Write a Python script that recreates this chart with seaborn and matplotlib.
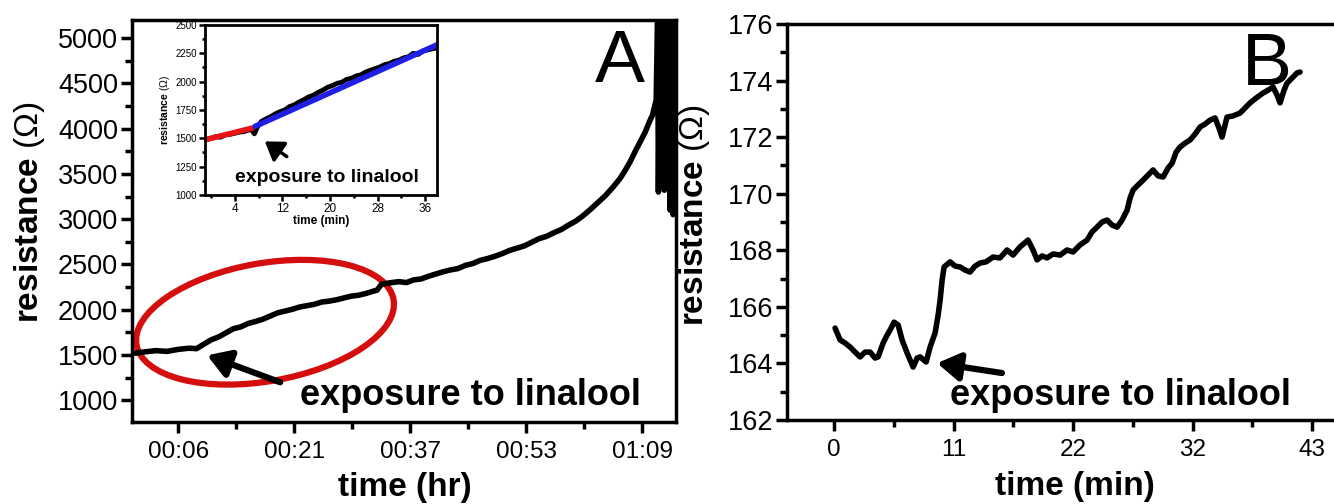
import matplotlib
matplotlib.use("Agg")
import matplotlib.pyplot as plt
from matplotlib import font_manager
from matplotlib.patches import Ellipse
from matplotlib.transforms import ScaledTranslation
import pandas as pd
import seaborn as sns

# ---- panel A: resistance vs time (minutes) ----
a_time = [0.2, 1.5, 3.0, 4.5, 6.0, 7.5, 8.5, 9.5, 10.5, 11.5, 12.5, 13.5, 14.5, 15.5,
          16.5, 17.5, 18.5, 19.5, 20.5, 21.5, 22.5, 23.5, 24.5, 25.5, 26.5, 27.5, 28.5,
          29.5, 30.5, 31.5, 32.5, 33.0, 33.6, 34.2, 35.0, 36.0, 37.0, 38.0, 39.0, 40.0,
          41.0, 42.0, 43.0, 44.0, 45.0, 46.0, 47.0, 48.0, 49.0, 50.0, 51.0, 52.0, 53.0,
          54.0, 55.0, 56.0, 57.0, 58.0, 59.0, 60.0, 61.0, 62.0, 63.0, 64.0, 65.0, 66.0,
          66.7, 67.4, 68.0, 68.7, 69.4, 70.0, 70.4, 70.9,
          71.1, 71.2, 71.4, 71.6, 71.8, 72.0, 72.2, 72.4, 72.6, 72.8, 73.0, 73.2, 73.4]
a_res = [1520, 1535, 1548, 1540, 1562, 1575, 1570, 1620, 1668, 1700, 1745, 1790, 1810, 1848,
         1870, 1895, 1930, 1965, 1985, 2005, 2030, 2045, 2060, 2085, 2095, 2110, 2130,
         2150, 2160, 2180, 2205, 2216, 2280, 2290, 2300, 2310, 2300, 2330, 2340, 2370,
         2395, 2420, 2440, 2455, 2490, 2510, 2545, 2565, 2590, 2620, 2655, 2680, 2705,
         2745, 2785, 2810, 2850, 2885, 2935, 2980, 3040, 3110, 3185, 3260, 3350, 3450,
         3540, 3640, 3740, 3850, 3960, 4080, 4150, 4315,
         5300, 3300, 5300, 3900, 5300, 3320, 5300, 4200, 5300, 3100, 5300, 3050, 5300]
a_ticks = [6, 21.75, 37.5, 53.25, 69]
a_ticklabels = ["00:06", "00:21", "00:37", "00:53", "01:09"]

# ---- inset of panel A ----
in_time = [-0.7, 0.0, 0.8, 1.6, 2.4, 3.2, 4.0, 4.8, 5.6, 6.4, 6.9, 7.3, 7.8, 8.5, 9.2,
           10.0, 10.8, 11.6, 12.4, 13.2, 14.0, 14.8, 15.6, 16.4, 17.2, 18.0, 18.8, 19.6,
           20.4, 21.2, 22.0, 22.8, 23.6, 24.4, 25.2, 26.0, 26.8, 27.6, 28.4, 29.2, 30.0,
           30.8, 31.6, 32.4, 33.2, 34.0, 34.8, 35.6, 36.4, 37.2, 38.0]
in_res = [1491, 1500, 1515, 1510, 1530, 1535, 1545, 1555, 1560, 1575, 1570, 1540, 1600,
          1650, 1670, 1690, 1715, 1735, 1750, 1780, 1795, 1820, 1840, 1865, 1880, 1905,
          1925, 1950, 1965, 1985, 1995, 2020, 2030, 2050, 2060, 2085, 2100, 2115, 2130,
          2150, 2160, 2180, 2190, 2210, 2220, 2250, 2240, 2270, 2280, 2290, 2300]
fit_before_t = [-0.7, 6.9]
fit_before_r = [1491, 1590]
fit_after_t = [7.4, 38.0]
fit_after_r = [1605, 2325]

# ---- panel B ----
b_time = [0.09, 0.54, 0.99, 1.44, 1.89, 2.34, 2.79, 3.24, 3.69, 3.96, 4.41, 4.77, 5.04,
          5.40, 5.76, 6.12, 6.57, 7.11, 7.47, 7.74, 8.28, 8.64, 9.09, 9.36, 9.54, 9.72,
          9.90, 10.44, 10.89, 11.34, 11.78, 12.23, 12.68, 13.13, 13.67, 14.30, 14.93,
          15.56, 16.10, 16.73, 17.45, 17.90, 18.26, 18.71, 19.16, 19.70, 20.33, 20.96,
          21.50, 22.13, 22.76, 23.21, 23.66, 24.11, 24.56, 25.01, 25.46, 25.91, 26.36,
          26.63, 26.90, 27.35, 27.80, 28.25, 28.70, 29.15, 29.60, 30.05, 30.41, 30.77,
          31.13, 31.58, 32.03, 32.48, 32.93, 33.37, 33.82, 34.27, 34.63, 34.90, 35.35,
          35.89, 36.52, 36.97, 37.42, 37.96, 38.59, 39.04, 39.49, 39.85, 40.12, 40.48,
          40.75, 41.20, 41.65, 41.92]
b_res = [165.25, 164.83, 164.72, 164.58, 164.40, 164.23, 164.40, 164.40, 164.19, 164.23,
         164.72, 165.00, 165.18, 165.46, 165.36, 164.83, 164.37, 163.87, 164.19, 164.23,
         164.05, 164.58, 165.08, 165.71, 166.24, 166.95, 167.41, 167.59, 167.44, 167.41,
         167.30, 167.23, 167.44, 167.55, 167.59, 167.76, 167.73, 168.01, 167.83, 168.12,
         168.36, 168.01, 167.66, 167.80, 167.73, 167.87, 167.83, 168.01, 167.94, 168.19,
         168.36, 168.65, 168.82, 169.00, 169.07, 168.89, 168.82, 169.07, 169.42, 169.85,
         170.13, 170.31, 170.48, 170.66, 170.84, 170.63, 170.59, 170.91, 171.08, 171.47,
         171.65, 171.79, 171.90, 172.11, 172.36, 172.46, 172.60, 172.68, 172.32, 172.00,
         172.71, 172.75, 172.85, 173.03, 173.21, 173.38, 173.56, 173.66, 173.77, 173.49,
         173.21, 173.66, 173.91, 174.09, 174.27, 174.30]
b_ticks = [0, 10.75, 21.5, 32.25, 43]
b_ticklabels = ["0", "11", "22", "32", "43"]

sns.set_theme(style="ticks")
names = {f.name for f in font_manager.fontManager.ttflist}
tick_font = "Liberation Sans Narrow" if "Liberation Sans Narrow" in names else "Liberation Sans"
plt.rcParams["font.family"] = [tick_font, "DejaVu Sans"]
plt.rcParams["mathtext.fontset"] = "custom"
plt.rcParams["mathtext.rm"] = "Liberation Sans"
plt.rcParams["axes.linewidth"] = 2.5
for key in ["text.color", "axes.labelcolor", "xtick.color", "ytick.color", "axes.edgecolor"]:
    plt.rcParams[key] = "black"

fig = plt.figure(figsize=(13.34, 5.04), dpi=100)
axA = fig.add_axes([0.0990, 0.1627, 0.4078, 0.7976])
axB = fig.add_axes([0.5900, 0.1667, 0.4183, 0.7857])
axI = fig.add_axes([0.1537, 0.6131, 0.1739, 0.3373])

bold = dict(family="Liberation Sans", fontweight="bold")


def style_axis(ax, size_x, size_y, major_len, minor_len, width):
    ax.tick_params(which="major", direction="out", length=major_len, width=width,
                   color="black", top=False, right=False)
    ax.tick_params(which="minor", direction="out", length=minor_len, width=width,
                   color="black", top=False, right=False)
    ax.tick_params(axis="x", labelsize=size_x, pad=6)
    ax.tick_params(axis="y", labelsize=size_y, pad=2)


# panel A
dfa = pd.DataFrame({"t": a_time, "r": a_res})
sns.lineplot(data=dfa, x="t", y="r", ax=axA, color="black", lw=4,
             estimator=None, sort=False)
axA.set_xlim(-0.25, 73.6)
axA.set_ylim(760, 5200)
axA.set_xticks(a_ticks)
axA.set_xticklabels(a_ticklabels)
axA.set_xticks([13.875, 29.625, 45.375, 61.125], minor=True)
axA.set_yticks(range(1000, 5001, 500))
axA.set_yticks(range(1250, 5001, 500), minor=True)
style_axis(axA, 17.5, 19.5, 8, 5, 2.5)
axA.set_xlabel("time (hr)", fontsize=24, **bold)
axA.set_ylabel(r"resistance $(\Omega)$", fontsize=24, **bold)
axA.xaxis.set_label_coords(0.502, -0.162)
axA.yaxis.set_label_coords(-0.188, 0.522)
axA.xaxis.label.set_va("center")
axA.yaxis.label.set_va("center")
axA.text(66.0, 4735, "A", fontsize=54, family="Liberation Sans", ha="center", va="center")
axA.text(22.6, 1055, "exposure to linalool", fontsize=26, ha="left", va="center", **bold)
axA.annotate("", xy=(9.94, 1497), xytext=(19.85, 1199),
             arrowprops=dict(arrowstyle="-|>,head_length=0.45,head_width=0.28",
                             lw=4.5, color="black", mutation_scale=30,
                             shrinkA=0, shrinkB=0))
ell = Ellipse((0, 0), 2.61, 1.18, angle=10, fill=False, edgecolor="#d40d0d", lw=4.5,
              transform=fig.dpi_scale_trans + ScaledTranslation(17.8, 1862, axA.transData))
axA.add_patch(ell)

# inset
dfi = pd.DataFrame({"t": in_time, "r": in_res})
sns.lineplot(data=dfi, x="t", y="r", ax=axI, color="black", lw=3.5,
             estimator=None, sort=False)
sns.lineplot(x=fit_before_t, y=fit_before_r, ax=axI, color="#e81414", lw=4)
sns.lineplot(x=fit_after_t, y=fit_after_r, ax=axI, color="#1f1fe6", lw=4)
axI.set_xlim(-1, 38)
axI.set_ylim(1000, 2500)
axI.set_xticks([4, 12, 20, 28, 36])
axI.set_xticks([0, 8, 16, 24, 32], minor=True)
axI.set_yticks(range(1000, 2501, 250))
axI.set_yticks(range(1125, 2500, 250), minor=True)
for s in axI.spines.values():
    s.set_linewidth(2)
style_axis(axI, 8.5, 7, 4, 2.5, 1.8)
axI.tick_params(axis="x", pad=2)
axI.set_xlabel("time (min)", fontsize=8.5, labelpad=0, **bold)
axI.set_ylabel(r"resistance $(\Omega)$", fontsize=7.5, labelpad=2, **bold)
axI.text(4.0, 1152, "exposure to linalool", fontsize=14, ha="left", va="center", **bold)
axI.annotate("", xy=(9.05, 1473), xytext=(12.75, 1339),
             arrowprops=dict(arrowstyle="-|>,head_length=0.6,head_width=0.4",
                             lw=2.5, color="black", mutation_scale=18,
                             shrinkA=0, shrinkB=0))
axI.set_facecolor("white")

# panel B
dfb = pd.DataFrame({"t": b_time, "r": b_res})
sns.lineplot(data=dfb, x="t", y="r", ax=axB, color="black", lw=4,
             estimator=None, sort=False)
axB.set_xlim(-4.23, 45.97)
axB.set_ylim(162, 176)
axB.set_xticks(b_ticks)
axB.set_xticklabels(b_ticklabels)
axB.set_xticks([5.375, 16.125, 26.875, 37.625], minor=True)
axB.set_yticks(range(162, 177, 2))
axB.set_yticks(range(163, 176, 2), minor=True)
style_axis(axB, 17.5, 19.5, 8, 5, 2.5)
axB.set_xlabel("time (min)", fontsize=24, **bold)
axB.set_ylabel(r"resistance $(\Omega)$", fontsize=24, **bold)
axB.xaxis.set_label_coords(0.516, -0.169)
axB.yaxis.set_label_coords(-0.165, 0.518)
axB.xaxis.label.set_va("center")
axB.yaxis.label.set_va("center")
axB.text(38.9, 174.55, "B", fontsize=54, family="Liberation Sans", ha="center", va="center")
axB.text(10.4, 162.88, "exposure to linalool", fontsize=26, ha="left", va="center", **bold)
axB.annotate("", xy=(9.27, 164.01), xytext=(15.1, 163.66),
             arrowprops=dict(arrowstyle="-|>,head_length=0.45,head_width=0.28",
                             lw=4.5, color="black", mutation_scale=30,
                             shrinkA=0, shrinkB=0))

fig.savefig("out.png", dpi=100)
